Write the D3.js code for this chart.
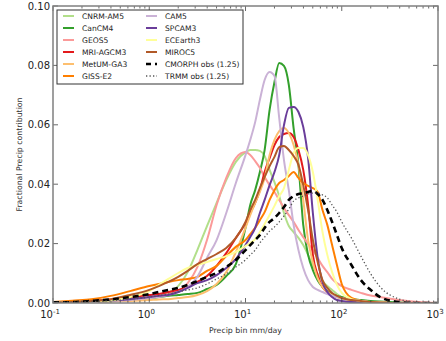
<!DOCTYPE html>
<html>
<head>
<meta charset="utf-8">
<script src="https://cdn.jsdelivr.net/npm/d3@7"></script>
<style>
  body { margin: 0; background: #fff; }
  #chart { width: 446px; height: 341px; }
  text { font-family: "DejaVu Sans", sans-serif; }
</style>
</head>
<body>
<div id="chart"></div>
<script>
// bin centres, mm/day
const bins = [0.1, 0.158, 0.251, 0.398, 0.631, 1, 1.26, 1.58, 2.0, 2.51, 3.16, 3.98, 5.01, 6.31, 7.94,
  10, 11.2, 12.6, 14.1, 15.8, 17.8, 20.0, 22.4, 25.1, 28.2, 31.6, 35.5, 39.8, 44.7, 50.1, 56.2, 63.1,
  70.8, 79.4, 89.1, 100, 126, 158, 200, 251, 398, 631, 1000];

const cnrm = [0.0002,0.0002,0.0003,0.0007,0.0010,0.0013,0.0020,0.0034,0.0057,0.0104,0.0178,0.0259,0.0337,0.0414,0.0475,0.0508,0.0515,0.0515,0.0512,0.0495,0.0448,0.0407,0.0360,0.0303,0.0259,0.0239,0.0219,0.0195,0.0162,0.0125,0.0098,0.0074,0.0057,0.0044,0.0030,0.0020,0.0010,0.0007,0.0003,0.0002,0,0,0];
const cancm4 = [0.0002,0.0002,0.0003,0.0007,0.0013,0.0017,0.0020,0.0024,0.0027,0.0030,0.0034,0.0047,0.0061,0.0091,0.0131,0.0253,0.0330,0.0380,0.0441,0.0515,0.0650,0.0744,0.0808,0.0798,0.0734,0.0589,0.0465,0.0263,0.0162,0.0111,0.0077,0.0054,0.0040,0.0030,0.0024,0.0020,0.0013,0.0010,0.0007,0.0005,0.0002,0,0];
const geos5 = [0.0002,0.0002,0.0003,0.0007,0.0010,0.0017,0.0024,0.0030,0.0040,0.0067,0.0121,0.0212,0.0330,0.0421,0.0488,0.0508,0.0498,0.0478,0.0455,0.0424,0.0397,0.0374,0.0347,0.0320,0.0296,0.0273,0.0246,0.0222,0.0199,0.0178,0.0152,0.0125,0.0104,0.0081,0.0067,0.0057,0.0044,0.0034,0.0025,0.0020,0.0010,0.0003,0];
const mri = [0.0002,0.0003,0.0007,0.0012,0.0020,0.0027,0.0030,0.0037,0.0044,0.0054,0.0071,0.0091,0.0125,0.0168,0.0219,0.0269,0.0303,0.0337,0.0380,0.0441,0.0488,0.0532,0.0559,0.0569,0.0572,0.0559,0.0515,0.0448,0.0330,0.0162,0.0094,0.0054,0.0037,0.0027,0.0020,0.0017,0.0010,0.0007,0.0003,0.0002,0,0,0];
const metum = [0,0.0002,0.0003,0.0005,0.0007,0.0010,0.0012,0.0013,0.0017,0.0020,0.0027,0.0040,0.0064,0.0104,0.0172,0.0253,0.0296,0.0337,0.0374,0.0421,0.0498,0.0549,0.0579,0.0589,0.0572,0.0532,0.0465,0.0347,0.0212,0.0138,0.0084,0.0054,0.0037,0.0027,0.0020,0.0015,0.0010,0.0007,0.0003,0.0002,0,0,0];
const giss = [0.0003,0.0008,0.0013,0.0024,0.0040,0.0057,0.0064,0.0071,0.0077,0.0081,0.0088,0.0108,0.0125,0.0158,0.0189,0.0212,0.0232,0.0253,0.0279,0.0306,0.0347,0.0380,0.0404,0.0414,0.0428,0.0441,0.0421,0.0404,0.0394,0.0387,0.0374,0.0313,0.0263,0.0195,0.0128,0.0064,0.0017,0.0007,0.0003,0.0002,0,0,0];
const cam5 = [0.0002,0.0002,0.0003,0.0007,0.0010,0.0017,0.0020,0.0027,0.0037,0.0054,0.0088,0.0152,0.0212,0.0303,0.0404,0.0498,0.0549,0.0609,0.0684,0.0751,0.0778,0.0764,0.0623,0.0481,0.0380,0.0263,0.0178,0.0118,0.0077,0.0054,0.0044,0.0037,0.0030,0.0025,0.0020,0.0017,0.0010,0.0007,0.0003,0.0002,0,0,0];
const spcam3 = [0.0002,0.0003,0.0005,0.0008,0.0013,0.0020,0.0024,0.0027,0.0037,0.0051,0.0067,0.0077,0.0094,0.0118,0.0148,0.0195,0.0222,0.0253,0.0303,0.0347,0.0397,0.0441,0.0498,0.0599,0.0657,0.0660,0.0643,0.0593,0.0488,0.0303,0.0152,0.0071,0.0037,0.0020,0.0010,0.0007,0.0003,0.0002,0,0,0,0,0];
const ecearth3 = [0.0002,0.0003,0.0005,0.0008,0.0020,0.0040,0.0061,0.0081,0.0101,0.0118,0.0128,0.0138,0.0148,0.0158,0.0172,0.0192,0.0202,0.0215,0.0239,0.0266,0.0296,0.0327,0.0360,0.0387,0.0448,0.0505,0.0522,0.0522,0.0498,0.0441,0.0347,0.0239,0.0162,0.0104,0.0061,0.0034,0.0013,0.0007,0.0003,0.0002,0,0,0];
const miroc5 = [0.0002,0.0003,0.0007,0.0013,0.0027,0.0044,0.0057,0.0071,0.0088,0.0108,0.0131,0.0148,0.0165,0.0185,0.0219,0.0273,0.0313,0.0347,0.0387,0.0424,0.0461,0.0492,0.0525,0.0529,0.0515,0.0495,0.0465,0.0397,0.0313,0.0212,0.0138,0.0077,0.0051,0.0034,0.0024,0.0017,0.0010,0.0007,0.0003,0.0002,0,0,0];
const cmorph = [0.0002,0.0003,0.0007,0.0012,0.0020,0.0030,0.0037,0.0044,0.0051,0.0061,0.0074,0.0088,0.0101,0.0121,0.0145,0.0178,0.0195,0.0212,0.0229,0.0253,0.0273,0.0286,0.0303,0.0323,0.0347,0.0360,0.0367,0.0370,0.0374,0.0377,0.0367,0.0347,0.0313,0.0273,0.0229,0.0185,0.0128,0.0077,0.0044,0.0020,0.0003,0,0];
const trmm = [0.0002,0.0003,0.0005,0.0008,0.0013,0.0020,0.0025,0.0030,0.0037,0.0044,0.0051,0.0064,0.0081,0.0098,0.0121,0.0145,0.0162,0.0178,0.0202,0.0222,0.0242,0.0256,0.0273,0.0293,0.0316,0.0343,0.0354,0.0360,0.0367,0.0370,0.0370,0.0364,0.0354,0.0330,0.0306,0.0273,0.0219,0.0158,0.0098,0.0054,0.0013,0.0002,0];

const seriesNames = ["CNRM-AM5", "CanCM4", "GEOS5", "MRI-AGCM3", "MetUM-GA3", "GISS-E2",
  "CAM5", "SPCAM3", "ECEarth3", "MIROC5", "CMORPH obs (1.25)", "TRMM obs (1.25)"];
const seriesValues = [cnrm, cancm4, geos5, mri, metum, giss, cam5, spcam3, ecearth3, miroc5, cmorph, trmm];
const yTicks = [0, 0.02, 0.04, 0.06, 0.08, 0.10];
const xMajor = [0.1, 1, 10, 100, 1000];
const xExp = ["-1", "0", "1", "2", "3"];

const colors = ["#b2df8a", "#33a02c", "#fb9a99", "#e31a1c", "#fdbf6f", "#ff7f00",
  "#cab2d6", "#6a3d9a", "#ffff99", "#b15928", "#000000", "#555555"];

class PrecipChart {
  constructor(id) {
    this.id = id;
    this.width = 446;
    this.height = 341;
    this.margin = { top: 6, right: 8, bottom: 38, left: 53 };
    this.draw();
  }

  styleOf(i) {
    if (i === 10) return { w: 2.6, dash: "6,4" };
    if (i === 11) return { w: 1.3, dash: "1.3,2.2" };
    return { w: 2, dash: null };
  }

  draw() {
    const m = this.margin;
    const svg = d3.select("#" + this.id).append("svg")
      .attr("width", this.width).attr("height", this.height);

    const x = d3.scaleLog().domain([0.1, 1000]).range([m.left, this.width - m.right]);
    const y = d3.scaleLinear().domain([0, 0.1]).range([this.height - m.bottom, m.top]);
    const x0 = m.left, x1 = this.width - m.right, y0 = this.height - m.bottom, y1 = m.top;

    svg.append("defs").append("clipPath").attr("id", "clip")
      .append("rect").attr("x", x0).attr("y", y1).attr("width", x1 - x0).attr("height", y0 - y1);

    const line = d3.line()
      .x((d) => x(d[0]))
      .y((d) => y(d[1]))
      .curve(d3.curveMonotoneX);

    const plot = svg.append("g").attr("clip-path", "url(#clip)");
    seriesValues.forEach((vals, i) => {
      const st = this.styleOf(i);
      plot.append("path")
        .datum(bins.map((b, k) => [b, vals[k]]))
        .attr("d", line)
        .attr("fill", "none")
        .attr("stroke", colors[i])
        .attr("stroke-width", st.w)
        .attr("stroke-dasharray", st.dash)
        .attr("stroke-linejoin", "round");
    });

    // minor log ticks
    const minor = [];
    for (let e = -1; e < 3; e++) {
      for (let k = 2; k <= 9; k++) minor.push(k * Math.pow(10, e));
    }

    const axes = svg.append("g").attr("stroke", "#444").attr("stroke-width", 0.8);
    minor.forEach((v) => {
      axes.append("line").attr("x1", x(v)).attr("x2", x(v)).attr("y1", y0).attr("y2", y0 - 2.5);
      axes.append("line").attr("x1", x(v)).attr("x2", x(v)).attr("y1", y1).attr("y2", y1 + 2.5);
    });
    xMajor.forEach((v) => {
      axes.append("line").attr("x1", x(v)).attr("x2", x(v)).attr("y1", y0).attr("y2", y0 - 5);
      axes.append("line").attr("x1", x(v)).attr("x2", x(v)).attr("y1", y1).attr("y2", y1 + 5);
    });
    yTicks.forEach((v) => {
      axes.append("line").attr("x1", x0).attr("x2", x0 + 5).attr("y1", y(v)).attr("y2", y(v));
      axes.append("line").attr("x1", x1).attr("x2", x1 - 5).attr("y1", y(v)).attr("y2", y(v));
    });

    svg.append("rect")
      .attr("x", x0).attr("y", y1).attr("width", x1 - x0).attr("height", y0 - y1)
      .attr("fill", "none").attr("stroke", "#808080").attr("stroke-width", 1.5);

    // tick labels
    svg.selectAll("text.ylab").data(yTicks).enter().append("text")
      .attr("class", "ylab")
      .attr("x", x0 - 3).attr("y", (d) => y(d) + 3.5)
      .attr("text-anchor", "end").attr("font-size", 10).attr("fill", "#222")
      .text((d) => d.toFixed(2));

    const xl = svg.selectAll("text.xlab").data(xMajor).enter().append("text")
      .attr("class", "xlab")
      .attr("x", (d) => x(d) - 3).attr("y", y0 + 15)
      .attr("text-anchor", "middle").attr("font-size", 10).attr("fill", "#222");
    xl.append("tspan").text("10");
    xl.append("tspan").attr("dy", -4.5).attr("font-size", 7).text((d, i) => xExp[i]);

    svg.append("text")
      .attr("x", (x0 + x1) / 2).attr("y", y0 + 30)
      .attr("text-anchor", "middle").attr("font-size", 7.8).attr("fill", "#333")
      .text("Precip bin mm/day");

    svg.append("text")
      .attr("transform", "translate(22," + ((y0 + y1) / 2) + ") rotate(-90)")
      .attr("text-anchor", "middle").attr("font-size", 7.8).attr("fill", "#333")
      .text("Fractional Precip contribution");

    this.drawLegend(svg);
  }

  drawLegend(svg) {
    const g = svg.append("g").attr("transform", "translate(57,10)");
    g.append("rect").attr("width", 186).attr("height", 74)
      .attr("fill", "#fff").attr("stroke", "#333").attr("stroke-width", 1);
    seriesNames.forEach((name, i) => {
      const col = Math.floor(i / 6), row = i % 6;
      const st = this.styleOf(i);
      const lx = 6 + col * 83, ly = 6 + row * 12;
      g.append("line")
        .attr("x1", lx).attr("x2", lx + 11).attr("y1", ly).attr("y2", ly)
        .attr("stroke", colors[i]).attr("stroke-width", st.w)
        .attr("stroke-dasharray", i === 10 ? "5,4" : st.dash);
      g.append("text")
        .attr("x", lx + 19).attr("y", ly + 2.8)
        .attr("font-size", 7.6).attr("fill", "#222")
        .text(name);
    });
  }
}

new PrecipChart("chart");
</script>
</body>
</html>
